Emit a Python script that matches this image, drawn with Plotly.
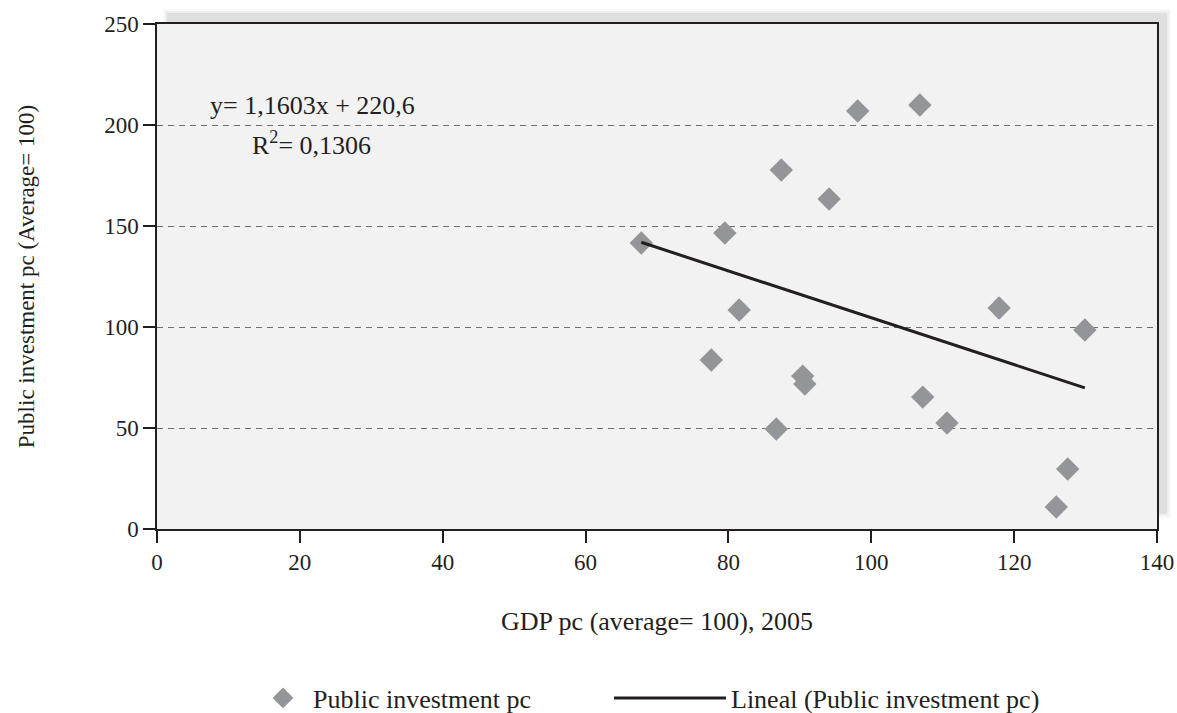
import plotly.graph_objects as go

# Data
gdp_pc = [67.8, 79.5, 87.4, 94.1, 98.1, 106.8, 81.5, 77.6, 90.4, 90.7,
          86.7, 107.2, 110.6, 117.9, 129.9, 127.5, 125.9]
public_inv_pc = [141.6, 146.5, 177.7, 163.4, 206.9, 209.9, 108.4, 83.7, 75.7, 71.8,
                 49.5, 65.3, 52.5, 109.4, 98.5, 29.7, 10.9]

# Trend line as printed on the chart (decreasing line drawn)
slope = -1.1603
intercept = 220.6
eq_label = "y= 1,1603x + 220,6"
r2_label = "R<sup>2</sup>= 0,1306"

x_ticks = [0, 20, 40, 60, 80, 100, 120, 140]
y_ticks = [0, 50, 100, 150, 200, 250]

trend_x = [min(gdp_pc), max(gdp_pc)]
trend_y = [intercept + slope * v for v in trend_x]

FONT = "Liberation Serif, Times New Roman, serif"
TXT = "#231f20"

fig = go.Figure()
fig.add_trace(go.Scatter(
    x=gdp_pc, y=public_inv_pc, mode="markers",
    name="Public investment pc",
    marker=dict(symbol="diamond", size=18, color="#939598", line=dict(width=0)),
    legend="legend",
))
fig.add_trace(go.Scatter(
    x=trend_x, y=trend_y, mode="lines",
    name="Lineal (Public investment pc)",
    line=dict(color=TXT, width=3),
    legend="legend2",
))

# shadow of the plot frame (layered to imitate blur)
shapes = []
dx = 10 / 1000
dy = 11 / 505
for op, grow in [(0.05, 4), (0.08, 2), (0.13, 0)]:
    gx = grow / 1000
    gy = grow / 505
    shapes.append(dict(type="rect", xref="paper", yref="paper",
                       x0=dx - gx, x1=1 + dx + gx, y0=0.03 - gy, y1=1 + dy + gy,
                       fillcolor="#7a7a7a", opacity=op, line=dict(width=0), layer="below"))
shapes.append(dict(type="rect", xref="paper", yref="paper", x0=0, x1=1, y0=0, y1=1,
                   fillcolor="#f2f2f2", line=dict(width=0), layer="below"))

fig.update_layout(
    width=1177, height=713,
    margin=dict(l=157, r=20, t=24, b=184, autoexpand=False),
    paper_bgcolor="white", plot_bgcolor="rgba(0,0,0,0)",
    font=dict(family=FONT, color=TXT, size=23),
    shapes=shapes,
    showlegend=True,
    legend=dict(orientation="h", xref="container", yref="container",
                x=253 / 1177, y=1 - 698 / 713, xanchor="left", yanchor="middle",
                font=dict(size=26, family=FONT, color=TXT), bgcolor="rgba(0,0,0,0)",
                itemwidth=50),
    legend2=dict(orientation="h", xref="container", yref="container",
                 x=609 / 1177, y=1 - 698 / 713, xanchor="left", yanchor="middle",
                 font=dict(size=26, family=FONT, color=TXT), bgcolor="rgba(0,0,0,0)",
                 itemwidth=112),
    annotations=[
        dict(text=eq_label, xref="paper", yref="paper", x=(312 - 157) / 1000,
             y=(529 - 105) / 505, showarrow=False, xanchor="center", yanchor="middle",
             font=dict(size=26, family=FONT, color=TXT)),
        dict(text=r2_label, xref="paper", yref="paper", x=(311 - 157) / 1000,
             y=(529 - 143) / 505, showarrow=False, xanchor="center", yanchor="middle",
             font=dict(size=26, family=FONT, color=TXT)),
    ],
)
fig.update_xaxes(
    range=[0, 140], tickvals=x_ticks, ticks="outside", ticklen=12, tickwidth=1.5,
    tickcolor=TXT, showline=True, linecolor=TXT, linewidth=1.5, mirror=True,
    showgrid=False, zeroline=False,
    title=dict(text="GDP pc (average= 100), 2005", font=dict(size=26), standoff=37),
    tickfont=dict(size=23),
)
fig.update_yaxes(
    range=[0, 250], tickvals=y_ticks, ticks="outside", ticklen=12, tickwidth=1.5,
    tickcolor=TXT, showline=True, linecolor=TXT, linewidth=1.5, mirror=True,
    showgrid=True, gridcolor="#6d6e71", gridwidth=1, griddash="6px,5px",
    zeroline=False,
    title=dict(text="Public investment pc (Average= 100)", font=dict(size=23), standoff=63),
    tickfont=dict(size=23),
)

fig.write_html("out.html")
